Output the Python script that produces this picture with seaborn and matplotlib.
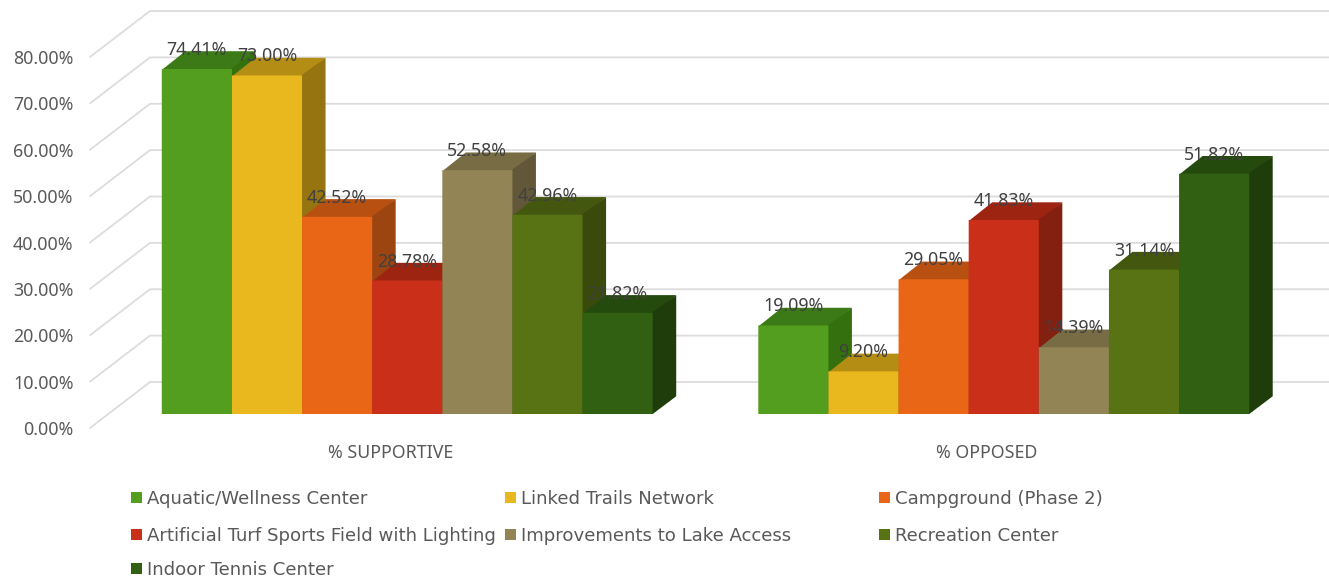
import matplotlib
matplotlib.use("Agg")
import matplotlib.pyplot as plt
import pandas as pd
import seaborn as sns
from matplotlib.lines import Line2D
from matplotlib.patches import Patch, Polygon
from matplotlib.transforms import IdentityTransform, ScaledTranslation

categories = ["% SUPPORTIVE", "% OPPOSED"]
projects = ["Aquatic/Wellness Center", "Linked Trails Network", "Campground (Phase 2)",
            "Artificial Turf Sports Field with Lighting", "Improvements to Lake Access",
            "Recreation Center", "Indoor Tennis Center"]
supportive = [74.41, 73.00, 42.52, 28.78, 52.58, 42.96, 21.82]
opposed = [19.09, 9.20, 29.05, 41.83, 14.39, 31.14, 51.82]
y_ticks = [0, 10, 20, 30, 40, 50, 60, 70, 80]

front_colors = ["#549E1F", "#E9B71E", "#E96616", "#C92F19", "#938455", "#587314", "#316013"]
top_colors = ["#3B7A16", "#B38D14", "#B85012", "#9E2412", "#786C45", "#43570F", "#254A0D"]
side_colors = ["#35700F", "#967510", "#9C4510", "#842010", "#625839", "#3A4A0C", "#1F3D0A"]

W, H = 1329, 582
DEPTH = (23.5, 17.7)
FONT = "Noto Sans"

sns.set_theme(style="white")
plt.rcParams["font.family"] = [FONT, "DejaVu Sans"]

df = pd.DataFrame({
    "group": [c for c in categories for _ in projects],
    "project": projects * 2,
    "value": supportive + opposed,
})

fig = plt.figure(figsize=(W / 100, H / 100), dpi=100, facecolor="white")
ax = fig.add_axes([109 / W, (H - 414) / H, (1302 - 109) / W, 371 / H])
sns.barplot(data=df, x="group", y="value", hue="project", hue_order=projects,
            palette=front_colors, width=0.823, gap=0, saturation=1, legend=False,
            errorbar=None, ax=ax)
ax.set_xlim(-0.5, 1.5)
ax.set_ylim(0, 80)
ax.set_xlabel("")
ax.set_ylabel("")
sns.despine(ax=ax, left=True, bottom=True, top=True, right=True)
ax.patch.set_visible(False)

# Back wall and side wall gridlines
px = IdentityTransform()
for v in y_ticks:
    x0, y0 = ax.transData.transform((-0.5, v))
    fig.add_artist(Line2D([x0 - 19, x0 + 41, W], [y0 - 14, y0 + 32, y0 + 32], color="#DCDCDC",
                          lw=1.3, transform=px, zorder=0))

# 3-D faces for every bar (tucked one pixel under the front face so no seam shows)
for i, container in enumerate(ax.containers):
    for bar in container:
        bar.set_zorder(10 + 2 * i)
        bar.set_edgecolor("none")
        bar.set_snap(False)
        (l, b), (r, t) = ax.transData.transform(bar.get_bbox().get_points())
        dx, dy = DEPTH
        ax.add_patch(Polygon([(l, t - 1), (r, t - 1), (r + dx, t + dy), (l + dx, t + dy)], closed=True,
                             fc=top_colors[i], ec="none", transform=px,
                             zorder=9 + 2 * i, clip_on=False))
        ax.add_patch(Polygon([(r - 1, b), (r, b), (r + dx, b + dy), (r + dx, t + dy), (r - 1, t)], closed=True,
                             fc=side_colors[i], ec="none", transform=px,
                             zorder=9 + 2 * i, clip_on=False))
    for lab in ax.bar_label(container, fmt="%.2f%%", padding=7.2, fontsize=12.8, color="#404040"):
        lab.set_zorder(60)

# Axis tick labels
ax.set_yticks(y_ticks, [f"{v:.2f}%" for v in y_ticks])
ax.tick_params(axis="y", length=0, pad=25.5, labelsize=12.8, labelcolor="#595959")
ax.tick_params(axis="x", length=0, pad=21.5, labelsize=12.8, labelcolor="#595959")
down = ScaledTranslation(0, -14 / 100, fig.dpi_scale_trans)
for lab in ax.get_yticklabels():
    lab.set_transform(lab.get_transform() + down)
left = ScaledTranslation(-17 / 100, 0, fig.dpi_scale_trans)
for lab in ax.get_xticklabels():
    lab.set_transform(lab.get_transform() + left)

# Legend entries on the original grid
legend_cols = [131, 505, 879]
legend_rows = [499, 536, 570]
for i, name in enumerate(projects):
    col, row = i % 3, i // 3
    fig.legend(handles=[Patch(fc=front_colors[i], ec="none")], labels=[name], loc="center left",
               bbox_to_anchor=(legend_cols[col] / W, 1 - legend_rows[row] / H), frameon=False,
               borderpad=0, borderaxespad=0, handlelength=0.6, handleheight=0.6, handletextpad=0.27,
               prop={"family": "DejaVu Sans", "size": 13.1}, labelcolor="#595959")

fig.savefig("out.png", dpi=100, facecolor="white")
